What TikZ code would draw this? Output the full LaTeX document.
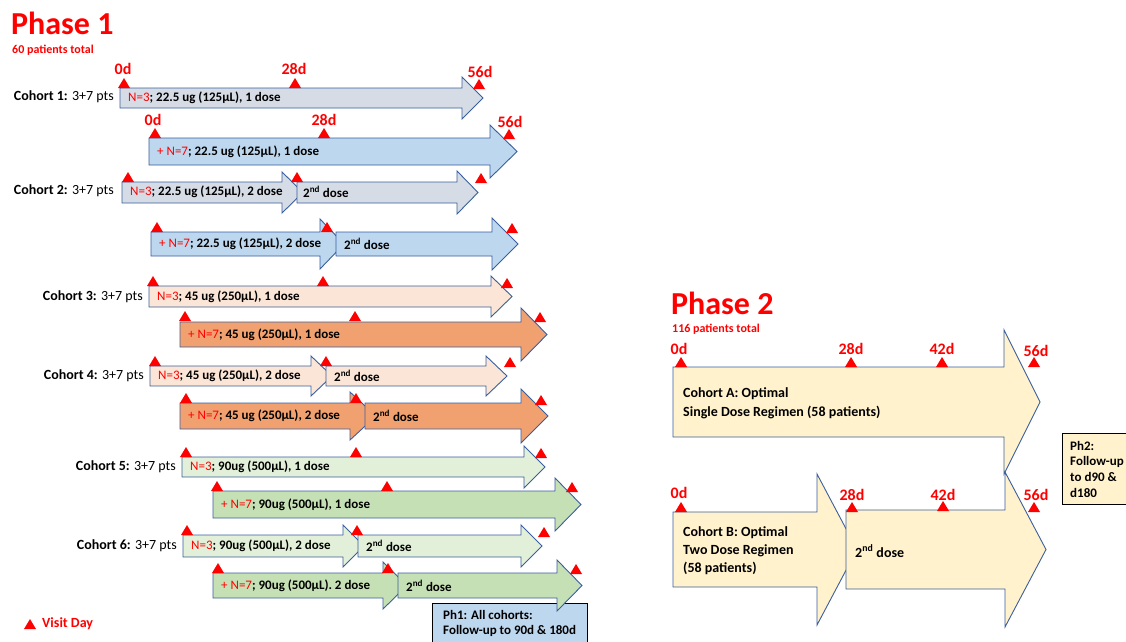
\documentclass[tikz,border=0pt]{standalone}
\usepackage{fontspec}
\setmainfont{Carlito}
\definecolor{cA}{HTML}{D6DCE5}
\definecolor{cB}{HTML}{BDD7EE}
\definecolor{cC}{HTML}{FBE5D6}
\definecolor{cD}{HTML}{F1A070}
\definecolor{cE}{HTML}{E2F0D9}
\definecolor{cF}{HTML}{C5E0B4}
\definecolor{cG}{HTML}{FFF2CC}
\definecolor{arrblue}{HTML}{3A5F9E}
\definecolor{vred}{HTML}{FF0000}
\newcommand\arr[7]{%
  \filldraw[arrline, fill=#7] (#1,#4) -- (#2,#4) -- (#2,#4-#6) -- (#3,{(#4+#5)/2}) -- (#2,#5+#6) -- (#2,#5) -- (#1,#5) -- cycle;}
\newcommand\vis[2]{\fill[vred] (#1-6,#2) -- (#1+6,#2) -- (#1,#2-10) -- cycle;}
\newcommand\nth{\textcolor{vred}{\mdseries N=3}}
\newcommand\nse{\textcolor{vred}{\mdseries + N=7}}
\newcommand\snd{2\textsuperscript{nd} dose}
\begin{document}
\begin{tikzpicture}[x=1pt,y=-1pt,
  arrline/.style={draw=arrblue, line width=0.9pt, line join=miter},
  lbl/.style={anchor=west, inner sep=0pt, font=\fontsize{13}{15}\selectfont\bfseries},
  big/.style={anchor=west, inner sep=0pt, font=\fontsize{14}{16}\selectfont\bfseries},
  day/.style={inner sep=0pt, text=vred, font=\fontsize{16}{18}\selectfont\bfseries},
  coh/.style={anchor=east, inner sep=0pt, font=\fontsize{14}{16}\selectfont},
  title/.style={anchor=west, inner sep=0pt, text=vred, font=\fontsize{32}{34}\selectfont\bfseries},
  sub/.style={anchor=west, inner sep=0pt, text=vred, font=\fontsize{12}{14}\selectfont\bfseries},
  infobox/.style={draw=black, line width=0.9pt, anchor=north west, inner sep=0pt}
]
\useasboundingbox (0,0) rectangle (1126,641);
\fill[white] (0,0) rectangle (1126,641);

% ---------------- Phase 1 ----------------
\node[title] (p1) at (11,23) {Phase 1};
\node[sub] (p1s) at (12,50) {60 patients total};

% Row 1
\arr{120}{462}{483}{88}{108}{11}{cA}
\vis{124}{88}\vis{295}{88}\vis{479}{89}
\node[day] (d1a) at (123,69) {0d};
\node[day] (d1b) at (294,69) {28d};
\node[day] (d1c) at (480,72) {56d};
\node[lbl] (t1) at (128,98) {\nth; 22.5 ug (125µL), 1 dose};
\node[coh] (c1) at (114,97) {\textbf{Cohort 1:} 3+7 pts};

% Row 2
\arr{149}{490}{517}{138}{165}{13}{cB}
\vis{155}{138}\vis{324}{138}\vis{509}{139}
\node[day] (d2a) at (153,120) {0d};
\node[day] (d2b) at (324,120) {28d};
\node[day] (d2c) at (510,122) {56d};
\node[lbl] (t2) at (157,152) {\nse; 22.5 ug (125µL), 1 dose};

% Row 3
\arr{122}{282}{303}{182}{203}{10}{cA}
\arr{297}{457}{478}{182}{203}{11}{cA}
\vis{128}{182}\vis{297}{182}\vis{481}{183}
\node[lbl] (t3) at (130,192) {\nth; 22.5 ug (125µL), 2 dose};
\node[lbl] (t3b) at (303,192) {\snd};
\node[coh] (c2) at (114,191) {\textbf{Cohort 2:} 3+7 pts};

% Row 4
\arr{151}{320}{344}{232}{256}{13}{cB}
\arr{336}{492}{518}{232}{256}{14}{cB}
\vis{157}{232}\vis{327}{232}\vis{512}{233}
\node[lbl] (t4) at (159,244) {\nse; 22.5 ug (125µL), 2 dose};
\node[lbl] (t4b) at (344,244) {\snd};

% Row 5
\arr{149}{491}{512}{286}{307}{10}{cC}
\vis{153}{286}\vis{323}{286}\vis{507}{288}
\node[lbl] (t5) at (157,297) {\nth; 45 ug (250µL), 1 dose};
\node[coh] (c3) at (143,297) {\textbf{Cohort 3:} 3+7 pts};

% Row 6
\arr{180}{521}{547}{322}{347}{14}{cD}
\vis{185}{321}\vis{355}{321}\vis{540}{322}
\node[lbl] (t6) at (188,335) {\nse; 45 ug (250µL), 1 dose};

% Row 7
\arr{150}{311}{332}{366}{386}{10}{cC}
\arr{326}{486}{507}{366}{386}{10}{cC}
\vis{155}{366}\vis{326}{366}\vis{510}{367}
\node[lbl] (t7) at (158,376) {\nth; 45 ug (250µL), 2 dose};
\node[lbl] (t7b) at (334,376) {\snd};
\node[coh] (c4) at (144,376) {\textbf{Cohort 4:} 3+7 pts};

% Row 8
\arr{180}{350}{376}{403}{429}{11}{cD}
\arr{365}{521}{548}{403}{429}{14}{cD}
\vis{186}{403}\vis{356}{403}\vis{541}{405}
\node[lbl] (t8) at (188,416) {\nse; 45 ug (250µL), 2 dose};
\node[lbl] (t8b) at (373,416) {\snd};

% Row 9
\arr{182}{524}{545}{457}{477}{11}{cE}
\vis{186}{457}\vis{356}{457}\vis{541}{458}
\node[lbl] (t9) at (190,467) {\nth; 90ug (500µL), 1 dose};
\node[coh] (c5) at (176,467) {\textbf{Cohort 5:} 3+7 pts};

% Row 10
\arr{213}{555}{581}{491}{518}{13}{cF}
\vis{217}{491}\vis{387}{491}\vis{572}{492}
\node[lbl] (t10) at (221,505) {\nse; 90ug (500µL), 1 dose};

% Row 11
\arr{183}{343}{364}{535}{557}{10}{cE}
\arr{358}{521}{542}{535}{557}{10}{cE}
\vis{187}{535}\vis{357}{535}\vis{544}{537}
\node[lbl] (t11) at (191,546) {\nth; 90ug (500µL), 2 dose};
\node[lbl] (t11b) at (366,546) {\snd};
\node[coh] (c6) at (177,546) {\textbf{Cohort 6:} 3+7 pts};

% Ph1 box
\node[infobox, fill=cB, minimum width=155pt, minimum height=44pt] (ph1) at (432,603) {};
\node[lbl] (ph1a) at (443,615) {Ph1: All cohorts:};
\node[lbl] (ph1b) at (443,631) {Follow-up to 90d \& 180d};

% Row 12
\arr{213}{383}{407}{573}{598}{11}{cF}
\arr{398}{557}{582}{573}{598}{13}{cF}
\vis{218}{573}\vis{388}{573}\vis{576}{574}
\node[lbl] (t12) at (221,586) {\nse; 90ug (500µL). 2 dose};
\node[lbl] (t12b) at (406,586) {\snd};

% Legend
\vis{30}{629}
\node[anchor=west, inner sep=0pt, text=vred, font=\fontsize{14}{16}\selectfont\bfseries] (leg) at (42,624) {Visit Day};

% ---------------- Phase 2 ----------------
\node[title] (p2) at (671,303) {Phase 2};
\node[sub] (p2s) at (672,329) {116 patients total};

\arr{673}{1004}{1040}{367}{437}{37}{cG}
\arr{673}{817}{857}{512}{587}{38}{cG}
\arr{846}{1005}{1046}{510}{589}{38}{cG}

\vis{681}{367}\vis{851}{367}\vis{942}{367}\vis{1034}{367}
\node[day] (e1a) at (679,349) {0d};
\node[day] (e1b) at (851,349) {28d};
\node[day] (e1c) at (942,349) {42d};
\node[day] (e1d) at (1036,351) {56d};

\vis{681}{512}\vis{852}{512}\vis{943}{511}\vis{1034}{512}
\node[day] (e2a) at (679,493) {0d};
\node[day] (e2b) at (852,495) {28d};
\node[day] (e2c) at (943,495) {42d};
\node[day] (e2d) at (1036,495) {56d};

\node[big] (ca1) at (683,394) {Cohort A: Optimal};
\node[big] (ca2) at (683,412) {Single Dose Regimen (58 patients)};
\node[big] (cb1) at (683,533) {Cohort B: Optimal};
\node[big] (cb2) at (683,551) {Two Dose Regimen};
\node[big] (cb3) at (683,568) {(58 patients)};
\node[big] (cb4) at (855,551) {\snd};

% Ph2 box
\node[infobox, fill=cG, minimum width=70pt, minimum height=71pt] (ph2) at (1062,433) {};
\node[lbl] (ph2a) at (1070,446) {Ph2:};
\node[lbl] (ph2b) at (1070,462) {Follow-up};
\node[lbl] (ph2c) at (1070,477) {to d90 \&};
\node[lbl] (ph2d) at (1070,493) {d180};
\end{tikzpicture}
\end{document}
